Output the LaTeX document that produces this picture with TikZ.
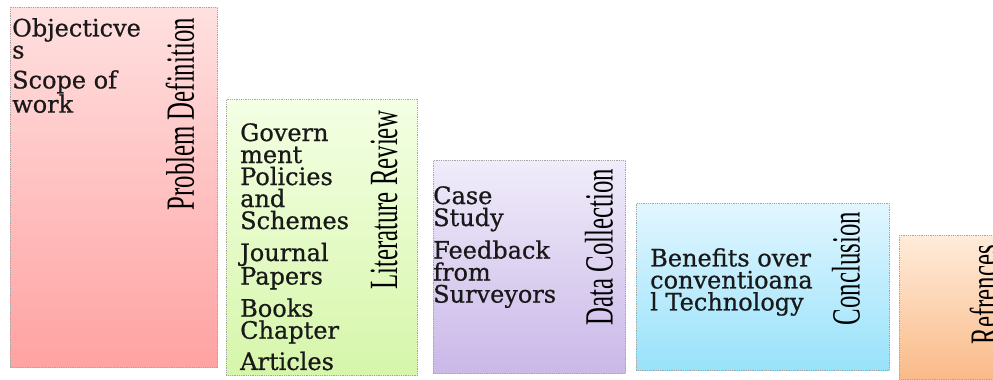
\documentclass[tikz,border=0pt]{standalone}
\usepackage{fontspec}
\setmainfont{DejaVu Serif}
\newfontfamily\pointfont{DejaVu Serif}[FakeBold=0.7]
\newfontfamily\titlefont{Liberation Serif}[FakeStretch=0.62]
\usepackage{tikz}

\definecolor{pinktop}{RGB}{255,224,224}
\definecolor{pinkbot}{RGB}{255,162,162}
\definecolor{greentop}{RGB}{244,255,228}
\definecolor{greenbot}{RGB}{214,246,170}
\definecolor{lilactop}{RGB}{240,236,250}
\definecolor{lilacbot}{RGB}{202,184,232}
\definecolor{cyantop}{RGB}{226,246,255}
\definecolor{cyanbot}{RGB}{152,226,250}
\definecolor{peachtop}{RGB}{255,236,218}
\definecolor{peachbot}{RGB}{250,186,136}

\begin{document}
\begin{tikzpicture}[
  x=1pt, y=-1pt,
  stage/.style={draw=gray!70, densely dotted, line width=0.8pt,
    anchor=north west, inner sep=0pt, rectangle},
  heading/.style={font=\titlefont\fontsize{40}{40}\selectfont,
    rotate=90, anchor=east, inner sep=0pt},
  points/.style={font=\pointfont\fontsize{24}{22}\selectfont, align=left,
    anchor=north west, inner sep=0pt, text=black!90}
]
  \useasboundingbox (0,0) rectangle (993,380);

  % the five steps
  \node[stage, top color=pinktop, bottom color=pinkbot,
    minimum width=207pt, minimum height=360pt] (pd) at (10,7) {};
  \node[stage, top color=greentop, bottom color=greenbot,
    minimum width=191pt, minimum height=276pt] (lr) at (226,99) {};
  \node[stage, top color=lilactop, bottom color=lilacbot,
    minimum width=192pt, minimum height=213pt] (dc) at (433,160) {};
  \node[stage, top color=cyantop, bottom color=cyanbot,
    minimum width=253pt, minimum height=167pt] (cn) at (636,203) {};
  \node[stage, top color=peachtop, bottom color=peachbot,
    minimum width=110pt, minimum height=144pt] (rf) at (899,235) {};

  % headings
  \node[heading] (pdhead) at (180,18) {Problem Definition};
  \node[heading] (lrhead) at (384,110) {Literature Review};
  \node[heading] (dchead) at (599,169) {Data Collection};
  \node[heading] (cnhead) at (846,212) {Conclusion};
  \node[heading] (rfhead) at (984,245) {Refrences};

  % contents
  \node[points] (pdlist) at (12,18)
    {Objecticve\\s\\[8pt]Scope of\\work};
  \node[points] (lrlist) at (240,123)
    {Govern\\ment\\Policies\\and\\Schemes\\[10pt]Journal\\Papers\\[8pt]Books\\Chapter\\[7pt]Articles};
  \node[points] (dclist) at (433,186)
    {Case\\Study\\[8pt]Feedback\\from\\Surveyors};
  \node[points] (cnlist) at (650,248)
    {Benefits over\\conventioana\\l Technology};
\end{tikzpicture}
\end{document}
